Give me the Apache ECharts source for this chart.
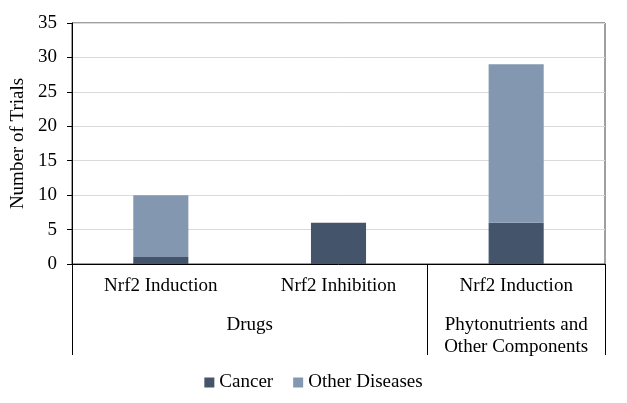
<!DOCTYPE html>
<html><head><meta charset="utf-8">
<script src="https://cdn.jsdelivr.net/npm/echarts@6/dist/echarts.min.js"></script>
<style>html,body{margin:0;padding:0;background:#fff}#c{width:627px;height:403px}</style>
</head><body><div id="c"></div>
<script>
const categories = ['Nrf2 Induction', 'Nrf2 Inhibition', 'Nrf2 Induction'];
const groupSlots = ['', '', 'Drugs', '', '', 'Phytonutrients and\nOther Components', ''];
const cancer = [1, 6, 6];
const otherDiseases = [9, 0, 23];
const yTicks = {min: 0, max: 35, interval: 5};

const font = 'Liberation Serif, Times New Roman, serif';
const fs = 19;
const chart = echarts.init(document.getElementById('c'));
chart.setOption({
  animation: false,
  textStyle: {fontFamily: font},
  grid: {left: 72, right: 22, top: 23, bottom: 139, show: true, borderColor: '#404040', borderWidth: 1},
  legend: {
    bottom: 6, left: 'center', icon: 'rect', itemWidth: 10, itemHeight: 10, itemGap: 20,
    textStyle: {fontFamily: font, fontSize: fs, color: '#000'},
    data: ['Cancer', 'Other Diseases']
  },
  xAxis: [{
    type: 'category', data: categories, position: 'bottom',
    axisLine: {lineStyle: {color: '#000', width: 1}},
    axisTick: {show: false},
    axisLabel: {fontFamily: font, fontSize: fs, color: '#000', margin: 13}
  }, {
    type: 'category', data: groupSlots, position: 'bottom', boundaryGap: false,
    axisLine: {show: false},
    axisTick: {show: true, length: 91, interval: function (i) { return i === 0 || i === 4 || i === 6; }, lineStyle: {color: '#000'}},
    axisLabel: {interval: 0, fontFamily: font, fontSize: fs, color: '#000', margin: 50, verticalAlign: 'top', lineHeight: 22}
  }],
  yAxis: {
    type: 'value', min: yTicks.min, max: yTicks.max, interval: yTicks.interval,
    name: 'Number of Trials', nameLocation: 'middle', nameGap: 40,
    nameTextStyle: {fontFamily: font, fontSize: fs, color: '#000'},
    axisLine: {show: true, lineStyle: {color: '#000'}},
    axisTick: {show: true, length: 5, lineStyle: {color: '#000'}},
    axisLabel: {fontFamily: font, fontSize: fs, color: '#000', margin: 15},
    splitLine: {lineStyle: {color: '#d9d9d9', width: 1}}
  },
  series: [{
    name: 'Cancer', type: 'bar', stack: 't', data: cancer, barWidth: '31%',
    itemStyle: {color: '#44546A'}
  }, {
    name: 'Other Diseases', type: 'bar', stack: 't', data: otherDiseases,
    itemStyle: {color: '#8497B0'}
  }]
});
</script></body></html>
